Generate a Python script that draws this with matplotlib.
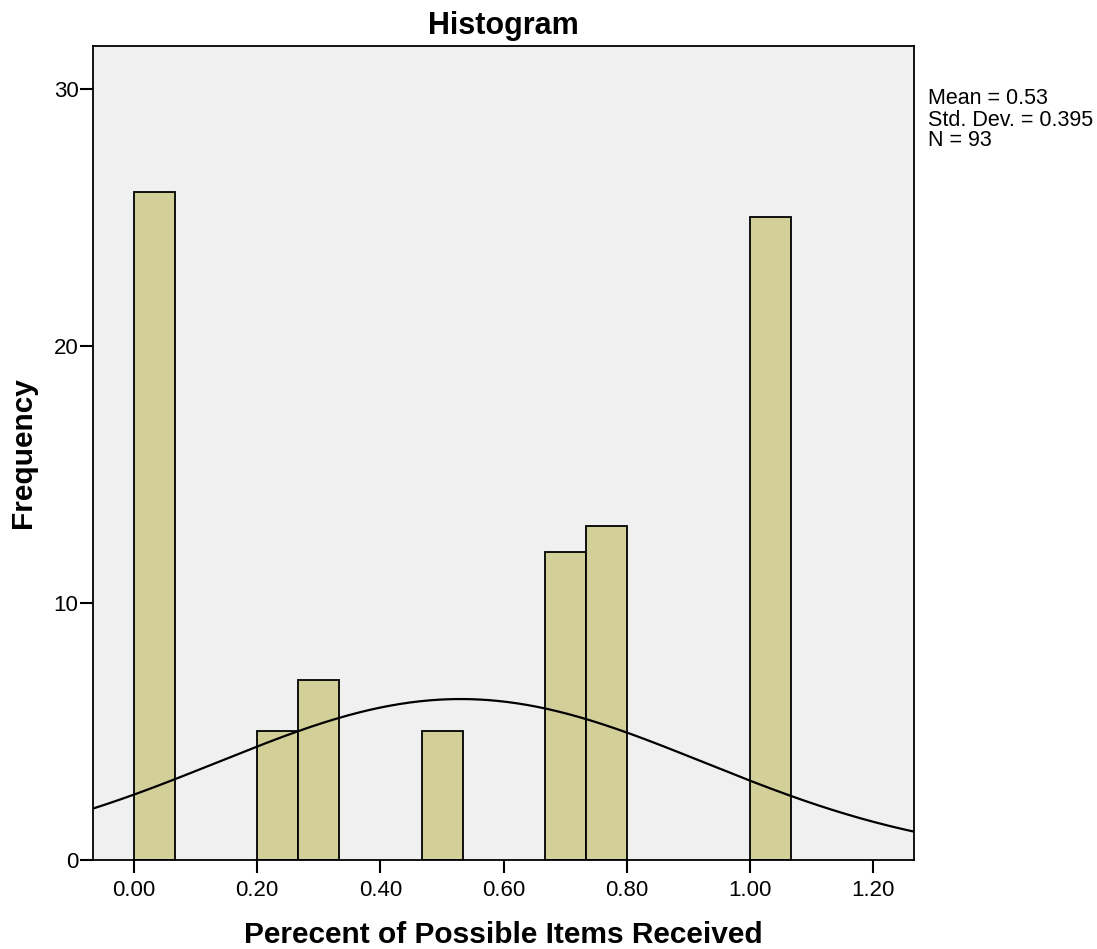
import numpy as np
import matplotlib
matplotlib.use("Agg")
import matplotlib.pyplot as plt

plt.rcParams['font.family'] = ['Liberation Sans', 'DejaVu Sans']

bin_left = [0.0, 0.2, 4/15, 7/15, 10/15, 11/15, 1.0]
counts = [26, 5, 7, 5, 12, 13, 25]
bin_width = 1/15
mean, sd, n = 0.53, 0.395, 93
xticks = [0.0, 0.2, 0.4, 0.6, 0.8, 1.0, 1.2]
yticks = [0, 10, 20, 30]

fig = plt.figure(figsize=(10.97, 9.49), dpi=100)
ax = fig.add_axes([93/1097, 89/949, 821/1097, 814/949])
ax.set_facecolor('#F0F0F0')
ax.bar(bin_left, counts, width=bin_width, align='edge', color='#D3CF99',
       edgecolor='black', linewidth=1.3, zorder=2)
xs = np.linspace(-0.0666, 1.266, 400)
ys = n * bin_width / (sd * np.sqrt(2 * np.pi)) * np.exp(-0.5 * ((xs - mean) / sd) ** 2)
ax.plot(xs, ys, color='black', linewidth=1.6, zorder=3)
ax.set_xlim(-0.0666, 1.266)
ax.set_ylim(0, 31.67)
ax.set_xticks(xticks)
ax.set_xticklabels([f"{t:.2f}" for t in xticks])
ax.set_yticks(yticks)
for s in ax.spines.values():
    s.set_linewidth(1.3)
ax.tick_params(axis='both', direction='out', length=9.5, width=1.5, labelsize=16, pad=5)
ax.tick_params(axis='y', pad=1)
ax.set_title('Histogram', fontsize=22, fontweight='bold', pad=9)
ax.set_xlabel('Perecent of Possible Items Received', fontsize=21.5, fontweight='bold', labelpad=14)
ax.set_ylabel('Frequency', fontsize=21.5, fontweight='bold', labelpad=12)
fig.text(928/1097, 1 - 120/949, 'Mean = 0.53\nStd. Dev. = 0.395\nN = 93', fontsize=15.5,
         va='center', ha='left', linespacing=1.0)
fig.savefig('out.png', dpi=100)
